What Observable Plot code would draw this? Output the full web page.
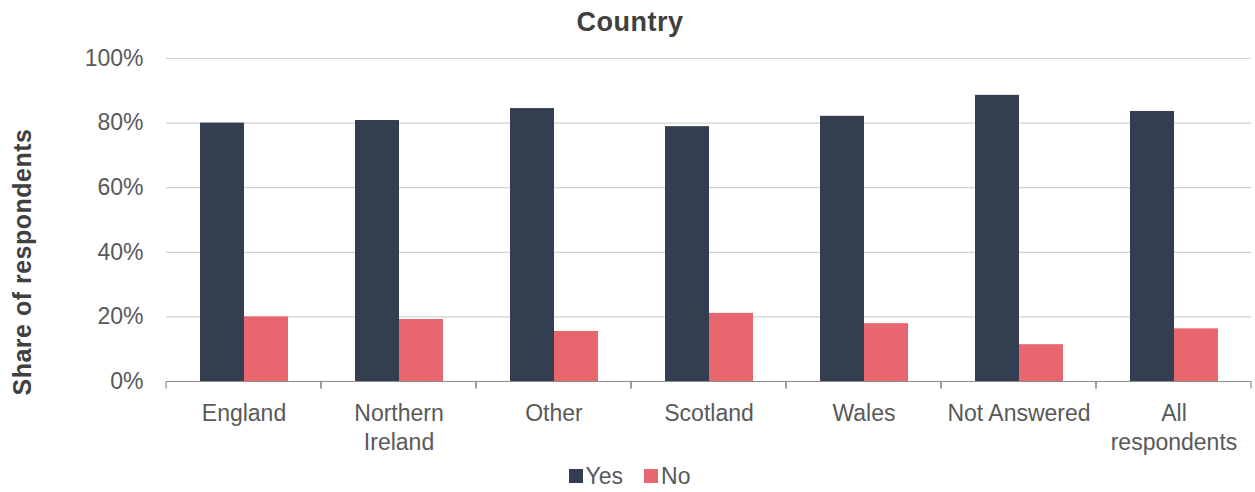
<!DOCTYPE html>
<html>
<head>
<meta charset="utf-8">
<script src="https://cdn.jsdelivr.net/npm/d3@7"></script>
<script src="https://cdn.jsdelivr.net/npm/@observablehq/plot@0.6"></script>
<style>
  body { margin: 0; background: #fff; font-family: "Liberation Sans", Arial, sans-serif; }
  #wrap { position: relative; width: 1255px; height: 492px; overflow: hidden; }
  #title { height: 40px; line-height: 44px; text-align: center; font-weight: bold; font-size: 27px; letter-spacing: 0.5px; color: #404040; padding-left: 5px; box-sizing: border-box; }
  #ylabel { position: absolute; left: 22px; top: 262px; transform: translate(-50%, -50%) rotate(-90deg); font-weight: bold; font-size: 25px; letter-spacing: 0.5px; color: #404040; white-space: nowrap; }
  #chart svg { display: block; }
  #legend { display: flex; justify-content: center; align-items: center; height: 32px; font-size: 23px; color: #595959; padding-left: 4px; }
  .item { display: flex; align-items: center; }
  .sw { width: 14px; height: 14px; margin-right: 3px; }
  .item + .item { margin-left: 21px; }
</style>
</head>
<body>
<div id="wrap">
  <div id="title">Country</div>
  <div id="ylabel">Share of respondents</div>
  <div id="chart"></div>
  <div id="legend"></div>
</div>
<script>
const categories = ["England", "Northern Ireland", "Other", "Scotland", "Wales", "Not Answered", "All respondents"];
const tickLabels = ["England", "Northern\nIreland", "Other", "Scotland", "Wales", "Not Answered", "All\nrespondents"];
const series = ["Yes", "No"];
const yesValues = [0.800, 0.808, 0.845, 0.789, 0.821, 0.886, 0.836];
const noValues  = [0.200, 0.192, 0.155, 0.211, 0.179, 0.114, 0.163];
const yTicks = [0, 0.2, 0.4, 0.6, 0.8, 1];
const colors = ["#333E50", "#E8666E"];

const data = categories.flatMap((c, i) => [
  {category: c, series: "Yes", value: yesValues[i]},
  {category: c, series: "No", value: noValues[i]}
]);
const labelOf = new Map(categories.map((c, i) => [c, tickLabels[i]]));

const chart = Plot.plot({
  width: 1255,
  height: 420,
  marginTop: 18,
  marginBottom: 79,
  marginLeft: 166,
  marginRight: 4,
  style: {fontFamily: "Liberation Sans, Arial, sans-serif", fontSize: "23px", color: "#595959", background: "white"},
  fx: {domain: categories, padding: 0},
  x: {domain: series, paddingInner: 0, paddingOuter: 0.76, axis: null},
  y: {domain: [0, 1]},
  color: {domain: series, range: colors},
  marks: [
    Plot.ruleY(yTicks.filter(t => t > 0), {stroke: "#d2d2d2", strokeWidth: 1.2}),
    Plot.axisY(yTicks, {tickFormat: d3.format(".0%"), tickSize: 0, tickPadding: 23, label: null, fontSize: 23, fill: "#595959"}),
    Plot.axisFx({anchor: "bottom", tickSize: 0, tickPadding: 19, label: null, tickFormat: c => labelOf.get(c), lineHeight: 1.27, fontSize: 23, fill: "#595959"}),
    Plot.barY(data, {fx: "category", x: "series", y: "value", fill: "series"}),
    Plot.ruleY([0], {
      stroke: "#8c8c8c", strokeWidth: 1.2,
      render: (index, scales, values, dims, context, next) => {
        const g = next(index, scales, values, dims, context);
        const y0 = scales.y(0);
        const sel = d3.select(g);
        [dims.marginLeft, dims.width - dims.marginRight].forEach(x => {
          sel.append("line")
            .attr("x1", x).attr("x2", x)
            .attr("y1", y0).attr("y2", y0 + 7)
            .attr("stroke", "#8c8c8c").attr("stroke-width", 1.2);
        });
        return g;
      }
    })
  ]
});
document.getElementById("chart").appendChild(chart);

const legend = d3.select("#legend");
series.forEach((s, i) => {
  const item = legend.append("div").attr("class", "item");
  item.append("div").attr("class", "sw").style("background", colors[i]);
  item.append("span").text(s);
});
</script>
</body>
</html>
